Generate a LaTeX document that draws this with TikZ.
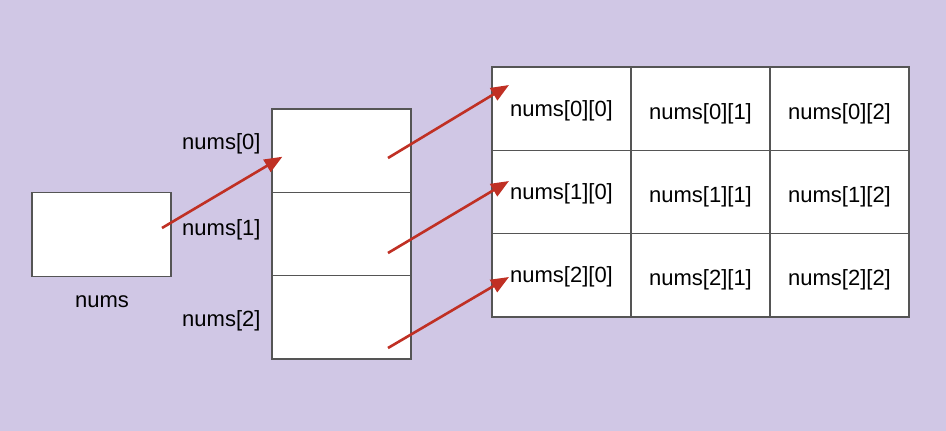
\documentclass[tikz,border=0pt]{standalone}
\usepackage{fontspec}
\setmainfont{Liberation Sans}
\usetikzlibrary{arrows.meta,calc}
\definecolor{bgpurple}{RGB}{208,199,229}
\definecolor{boxgray}{RGB}{85,85,85}
\definecolor{ptrred}{RGB}{192,48,36}
\tikzset{
	cell/.style={draw=boxgray, line width=1.2pt, fill=white, minimum width=139pt, minimum height=83.3pt, inner sep=0pt},
	ptr/.style={ptrred, line width=2.6pt, -{Triangle[length=18pt,width=14pt]}},
	every node/.style={font=\fontsize{22}{26}\selectfont}
}
\begin{document}
\begin{tikzpicture}[x=1pt,y=-1pt]
	\fill[bgpurple] (0,0) rectangle (946,431);
	\useasboundingbox (0,0) rectangle (946,431);
	\node[cell] (nums) at (101.5,234.5) {};
	\node (numslab) at (102,302) {nums};
	\foreach \i in {0,1,2} {
		\node[cell] (mid\i) at ({341.5},{150.7+83.3*\i}) {};
	}
	\node[anchor=east] (lab0) at (264,144) {nums[0]};
	\node[anchor=east] (lab1) at (264,230) {nums[1]};
	\node[anchor=east] (lab2) at (264,321) {nums[2]};
	\foreach \r in {0,1,2} {
		\foreach \c in {0,1,2} {
			\pgfmathsetmacro\dy{\c==0 ? 2 : 5}
			\node[cell] (g\r\c) at ({561.5+139*\c},{108.7+83.3*\r}) {};
			\node (t\r\c) at ($(g\r\c.center)+(0,\dy)$) {nums[\r][\c]};
		}
	}
	\draw[ptr] ($(nums.center)+(60.5,-6.5)$) -- ($(mid0.west)+(11,6)$);
	\draw[ptr] ($(mid0.center)+(46.5,7.3)$) -- ($(g00.center)+(-52.5,-23.7)$);
	\draw[ptr] ($(mid1.center)+(46.5,19)$) -- ($(g10.center)+(-52.5,-11)$);
	\draw[ptr] ($(mid2.center)+(46.5,30.7)$) -- ($(g20.center)+(-52.5,1.7)$);
\end{tikzpicture}
\end{document}
